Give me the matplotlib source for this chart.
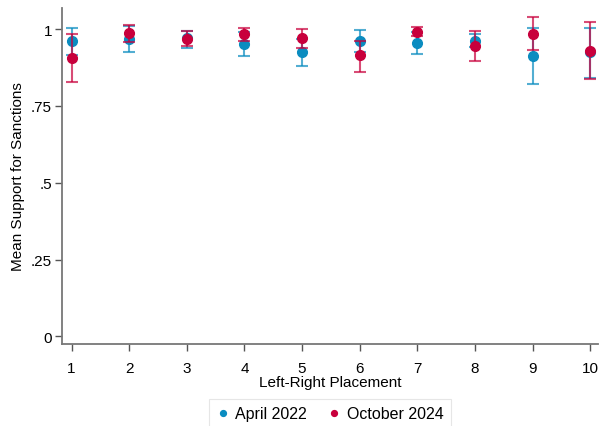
import matplotlib
matplotlib.use("Agg")
import matplotlib.pyplot as plt
import numpy as np

plt.rcParams['font.family'] = ['Liberation Sans', 'DejaVu Sans']

placement = [1, 2, 3, 4, 5, 6, 7, 8, 9, 10]

apr_mean = [0.962, 0.968, 0.970, 0.951, 0.924, 0.962, 0.955, 0.962, 0.911, 0.924]
apr_lo = [0.916, 0.926, 0.937, 0.911, 0.881, 0.925, 0.919, 0.940, 0.821, 0.841]
apr_hi = [1.005, 1.010, 0.995, 0.991, 0.967, 0.998, 0.990, 0.985, 1.002, 1.002]

oct_mean = [0.905, 0.986, 0.968, 0.984, 0.970, 0.914, 0.992, 0.944, 0.984, 0.930]
oct_lo = [0.829, 0.957, 0.946, 0.962, 0.937, 0.861, 0.978, 0.895, 0.933, 0.836]
oct_hi = [0.984, 1.013, 0.995, 1.005, 1.000, 0.962, 1.008, 0.995, 1.038, 1.024]

blue = '#0a8cc0'
red = '#c8003c'

fig, ax = plt.subplots(figsize=(6.0, 4.27), dpi=100)
fig.subplots_adjust(left=0.103, right=0.997, top=0.98, bottom=0.192)

for mean, lo, hi, col, lab in [(apr_mean, apr_lo, apr_hi, blue, 'April 2022'),
                               (oct_mean, oct_lo, oct_hi, red, 'October 2024')]:
    mean = np.array(mean)
    err = [mean - np.array(lo), np.array(hi) - mean]
    ax.errorbar(placement, mean, yerr=err, fmt='none', ecolor=col, alpha=0.7,
                elinewidth=1.5, capsize=4, capthick=1.5)
    ax.plot(placement, mean, 'o', color=col, markersize=7, label=lab)

ax.set_xlim(0.83, 10.14)
ax.set_ylim(-0.025, 1.07)
ax.set_xticks(placement)
ax.set_yticks([0, 0.25, 0.5, 0.75, 1])
ax.set_yticklabels(['0', '.25', '.5', '.75', '1'])
ax.tick_params(colors='#555555', labelcolor='black', labelsize=11, length=5, width=1)
ax.tick_params(axis='y', pad=2)
ax.tick_params(axis='x', pad=7)
for s in ['top', 'right']:
    ax.spines[s].set_visible(False)
for s in ['left', 'bottom']:
    ax.spines[s].set_color('#777777')
    ax.spines[s].set_linewidth(1.3)

ax.set_xlabel('Left-Right Placement', fontsize=11, labelpad=0)
ax.set_ylabel('Mean Support for Sanctions', fontsize=11)

leg = ax.legend(loc='upper center', bbox_to_anchor=(0.5, -0.14), ncol=2,
                frameon=True, fancybox=False, fontsize=11.5, handletextpad=0.4,
                handlelength=0.8, columnspacing=1.3, markerscale=0.6,
                borderpad=0.45)
leg.get_frame().set_edgecolor('#e0e0e0')
leg.get_frame().set_linewidth(0.8)

fig.savefig('out.png', dpi=100)
